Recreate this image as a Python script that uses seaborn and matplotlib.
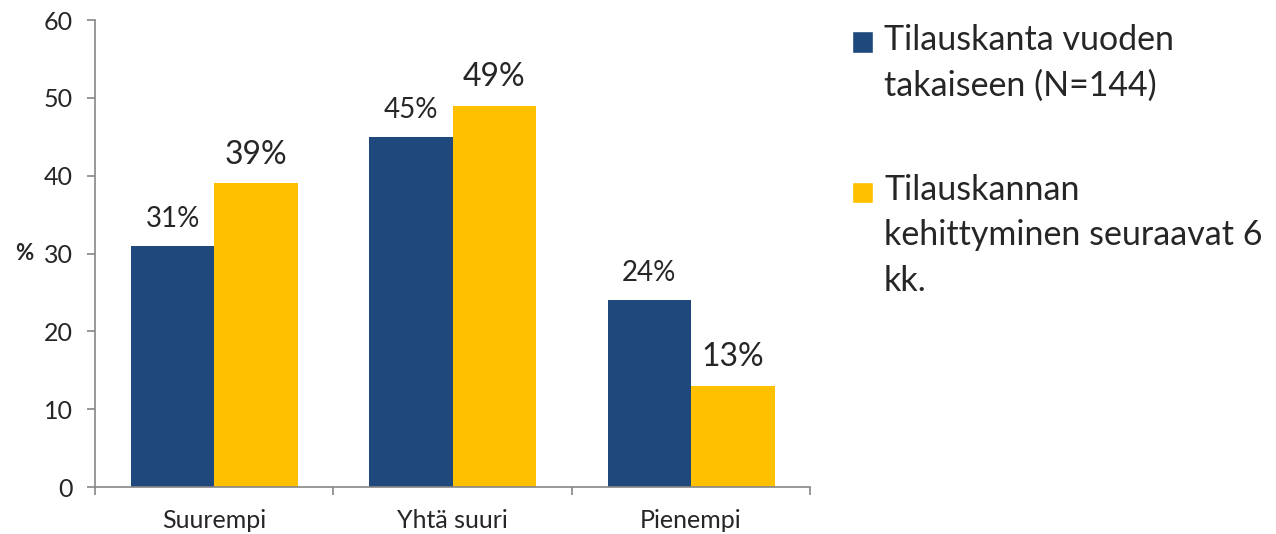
import pandas as pd
import matplotlib.pyplot as plt
import seaborn as sns
from matplotlib.patches import Patch, Rectangle
from matplotlib.legend_handler import HandlerPatch

# Arvot kuvasta
categories = ["Suurempi", "Yhtä suuri", "Pienempi"]
series = ["Tilauskanta vuoden\ntakaiseen (N=144)",
          "Tilauskannan\nkehittyminen seuraavat 6\nkk."]
vals_prev = [31, 45, 24]
vals_next = [39, 49, 13]
colors = ["#1F497D", "#FFC000"]

df = pd.DataFrame({
    "kategoria": categories * 2,
    "sarja": [series[0]] * 3 + [series[1]] * 3,
    "arvo": vals_prev + vals_next,
})

sns.set_style("white")
plt.rcParams["font.family"] = ["Lato", "DejaVu Sans"]

fig = plt.figure(figsize=(12.76, 5.34), dpi=100)
ax = fig.add_axes([0.0745, 0.088, 0.5605, 0.8745])

sns.barplot(data=df, x="kategoria", y="arvo", hue="sarja", palette=colors,
            width=0.7, saturation=1, legend=False, linewidth=0, ax=ax)

# arvolaput palkkien päälle
label_sizes = [20, 23]
for cont, vals, fs in zip(ax.containers, [vals_prev, vals_next], label_sizes):
    ax.bar_label(cont, labels=[f"{v}%" for v in vals], padding=10, fontsize=fs)

ax.set_ylim(0, 60)
ax.set_xlim(-0.5, 2.5)
ax.set_yticks(range(0, 61, 10))
ax.set_xlabel("")
ax.set_ylabel("%", rotation=0, fontsize=16, fontweight="bold", labelpad=14, va="center")

for s in ["top", "right"]:
    ax.spines[s].set_visible(False)
for s in ["left", "bottom"]:
    ax.spines[s].set_color("#868686")
    ax.spines[s].set_linewidth(1.2)

ax.tick_params(axis="y", length=6, width=1.2, color="#868686", labelsize=18, pad=10, left=True)
ax.tick_params(axis="x", which="major", length=0, labelsize=18, pad=16)
ax.set_xticks([-0.5, 0.5, 1.5, 2.5], minor=True)
ax.tick_params(axis="x", which="minor", length=6, width=1.2, color="#868686", bottom=True)

# selite: neliö ensimmäisen rivin kohdalle
LS = 1.53
n_lines = {c: s.count("\n") + 1 for c, s in zip(colors, series)}


def square_top(legend, orig_handle, xdescent, ydescent, width, height, fontsize):
    n = n_lines[orig_handle.get_label()]
    shift = (n - 1) * 0.5 * 0.843 * LS * fontsize
    return Rectangle((-xdescent, -ydescent + shift), width, height)


handles = [Patch(facecolor=c, label=c) for c in colors]
leg = fig.legend(handles, series, loc="upper left", bbox_to_anchor=(0.668, 0.955),
                 frameon=False, fontsize=24.5, handlelength=0.6, handleheight=0.6,
                 handletextpad=0.33, labelspacing=2.1, borderpad=0, borderaxespad=0,
                 handler_map={Patch: HandlerPatch(patch_func=square_top)})
for t in leg.get_texts():
    t.set_linespacing(LS)

fig.savefig("out.png", dpi=100)
